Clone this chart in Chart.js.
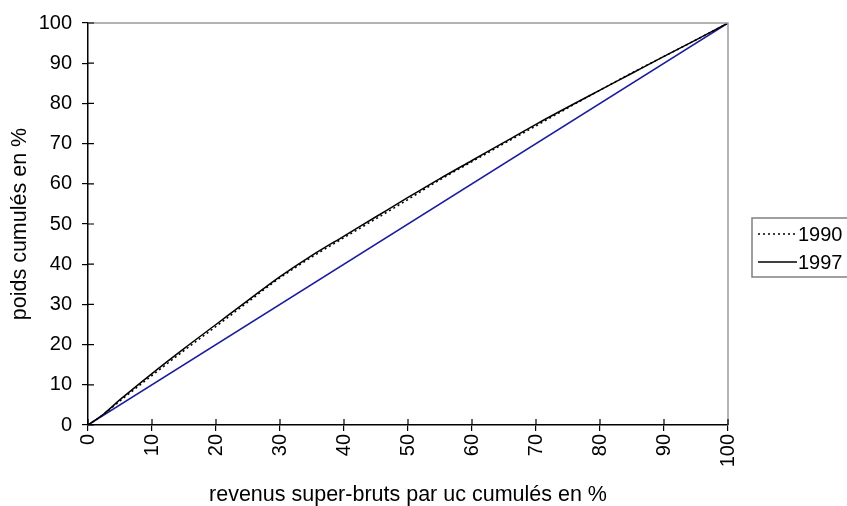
<!DOCTYPE html>
<html>
<head>
<meta charset="utf-8">
<script src="https://cdn.jsdelivr.net/npm/chart.js@4"></script>
<style>
  html, body { margin: 0; padding: 0; background: #fff; }
  #wrap { width: 847px; height: 506px; }
</style>
</head>
<body>
<div id="wrap"><canvas id="myChart" width="847" height="506"></canvas></div>
<script>
// cumulative income share (x) and cumulative weight share (y), in %
const incomeShare = [0, 2.5, 5, 10, 15, 20, 25, 30, 35, 40, 45, 50, 55, 60, 65, 70, 75, 80, 85, 90, 95, 100];
const weight1990 = [0, 2.7, 6.0, 12.3, 18.5, 24.5, 30.6, 36.6, 41.8, 46.6, 51.3, 56.1, 61.0, 65.5, 70.0, 74.4, 78.9, 83.3, 87.6, 91.7, 95.8, 100];
const weight1997 = [0, 2.8, 6.3, 12.8, 19.0, 25.0, 31.0, 36.9, 42.2, 47.0, 51.8, 56.6, 61.3, 65.8, 70.3, 74.8, 79.1, 83.3, 87.5, 91.7, 95.8, 100];
const equalityX = [0, 100];
const equalityY = [0, 100];
const yTicks = [0, 10, 20, 30, 40, 50, 60, 70, 80, 90, 100];

const FONT = '"Liberation Sans", Arial, sans-serif';

function toPoints(xs, ys) {
  return xs.map((x, i) => ({ x: x, y: ys[i] }));
}

// ticks crossing the axes + grey top/right frame
const framePlugin = {
  id: 'frame',
  afterDraw(chart) {
    const { ctx, chartArea: a, scales } = chart;
    ctx.save();
    ctx.strokeStyle = '#9a9a9a';
    ctx.lineWidth = 1.5;
    ctx.beginPath();
    ctx.moveTo(a.left, a.top);
    ctx.lineTo(a.right, a.top);
    ctx.lineTo(a.right, a.bottom);
    ctx.stroke();
    ctx.strokeStyle = '#000';
    ctx.lineWidth = 1.2;
    ctx.beginPath();
    scales.y.ticks.forEach((t) => {
      const y = scales.y.getPixelForValue(t.value);
      ctx.moveTo(a.left, y);
      ctx.lineTo(a.left + 6, y);
    });
    scales.x.ticks.forEach((t) => {
      const x = scales.x.getPixelForValue(t.value);
      ctx.moveTo(x, a.bottom);
      ctx.lineTo(x, a.bottom - 6);
    });
    ctx.stroke();
    ctx.restore();
  }
};

// legend box on the right, partly cut by the canvas edge
const legendPlugin = {
  id: 'boxLegend',
  afterDraw(chart) {
    const ctx = chart.ctx;
    const items = chart.data.datasets.filter((d) => d.inLegend);
    ctx.save();
    ctx.strokeStyle = '#808080';
    ctx.lineWidth = 1.5;
    ctx.strokeRect(752, 218, 110, 59);
    ctx.font = '20px ' + FONT;
    ctx.textBaseline = 'middle';
    ctx.fillStyle = '#000';
    items.forEach((d, i) => {
      const y = 234 + i * 28;
      ctx.beginPath();
      ctx.strokeStyle = d.borderColor;
      ctx.lineWidth = d.borderWidth;
      ctx.setLineDash(d.borderDash || []);
      ctx.moveTo(758, y);
      ctx.lineTo(797, y);
      ctx.stroke();
      ctx.setLineDash([]);
      ctx.fillText(d.label, 798, y + 1);
    });
    ctx.restore();
  }
};

const ctx = document.getElementById('myChart').getContext('2d');
new Chart(ctx, {
  type: 'line',
  data: {
    datasets: [
      {
        label: '1990',
        data: toPoints(incomeShare, weight1990),
        borderColor: '#000',
        borderWidth: 1.5,
        borderDash: [2, 3],
        pointRadius: 0,
        cubicInterpolationMode: 'monotone',
        inLegend: true,
      },
      {
        label: '1997',
        data: toPoints(incomeShare, weight1997),
        borderColor: '#000',
        borderWidth: 1.5,
        pointRadius: 0,
        cubicInterpolationMode: 'monotone',
        inLegend: true,
      },
      {
        label: 'égalité',
        data: toPoints(equalityX, equalityY),
        borderColor: '#1c1c9c',
        borderWidth: 1.5,
        pointRadius: 0,
        inLegend: false,
      },
    ],
  },
  options: {
    responsive: false,
    animation: false,
    layout: { padding: { left: 0, right: 119, top: 23, bottom: 0 } },
    plugins: {
      legend: { display: false },
      tooltip: { enabled: false },
    },
    scales: {
      x: {
        type: 'linear',
        min: 0,
        max: 100,
        ticks: {
          stepSize: 10,
          minRotation: 90,
          maxRotation: 90,
          padding: 3,
          color: '#000',
          font: { family: FONT, size: 20 },
        },
        grid: { drawOnChartArea: false, tickLength: 6, color: '#000', lineWidth: 1.2 },
        border: { color: '#000', width: 1.5 },
        title: {
          display: true,
          text: 'revenus super-bruts par uc cumulés en %',
          color: '#000',
          font: { family: FONT, size: 21.5, lineHeight: 1 },
          padding: { top: 0, bottom: 0 },
        },
        afterFit(scale) { scale.height = 81; },
      },
      y: {
        type: 'linear',
        min: 0,
        max: 100,
        afterBuildTicks(scale) { scale.ticks = yTicks.map((v) => ({ value: v })); },
        ticks: {
          padding: 10,
          color: '#000',
          font: { family: FONT, size: 20 },
        },
        grid: { drawOnChartArea: false, tickLength: 6, color: '#000', lineWidth: 1.2 },
        border: { color: '#000', width: 1.5 },
        title: {
          display: true,
          text: 'poids cumulés en %',
          color: '#000',
          font: { family: FONT, size: 21.5, lineHeight: 1 },
          padding: { top: 9, bottom: 0 },
        },
        afterFit(scale) { scale.width = 88; },
      },
    },
  },
  plugins: [framePlugin, legendPlugin],
});
</script>
</body>
</html>
